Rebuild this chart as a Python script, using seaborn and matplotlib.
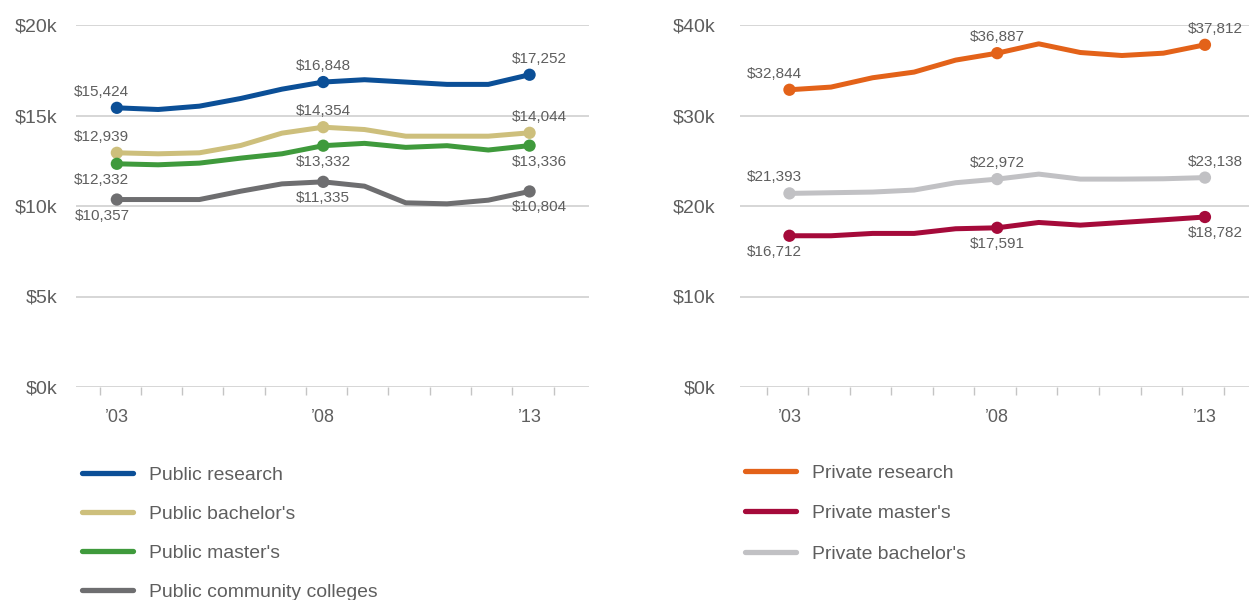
import matplotlib
matplotlib.use("Agg")
import matplotlib.pyplot as plt
import seaborn as sns
import pandas as pd
from matplotlib import font_manager
from matplotlib.lines import Line2D

# ---------------- data ----------------
years = list(range(2003, 2014))
label_years = [2003, 2008, 2013]
year_ticklabels = ["\u201903", "\u201908", "\u201913"]

public_research = [15424, 15332, 15516, 15940, 16455, 16848, 16977, 16848, 16719, 16719, 17252]
public_bachelors = [12939, 12884, 12939, 13344, 14025, 14354, 14225, 13857, 13857, 13857, 14044]
public_masters = [12332, 12277, 12369, 12645, 12884, 13332, 13461, 13240, 13332, 13093, 13336]
public_community = [10357, 10357, 10357, 10817, 11222, 11335, 11096, 10175, 10120, 10322, 10804]

private_research = [32844, 33139, 34170, 34796, 36122, 36887, 37918, 36961, 36629, 36887, 37812]
private_masters = [16712, 16712, 16970, 16970, 17486, 17591, 18180, 17885, 18180, 18475, 18782]
private_bachelors = [21393, 21467, 21540, 21761, 22571, 22972, 23524, 22972, 22972, 23009, 23138]

left_names = ["Public research", "Public bachelor's", "Public master's", "Public community colleges"]
left_values = [public_research, public_bachelors, public_masters, public_community]
left_colors = ["#0b4f97", "#cdbf7c", "#3f9a3c", "#6e6e70"]
left_side = ["above", "above", "below", "below"]
left_yticks = [0, 5000, 10000, 15000, 20000]
left_yticklabels = ["$0k", "$5k", "$10k", "$15k", "$20k"]

right_names = ["Private research", "Private master's", "Private bachelor's"]
right_values = [private_research, private_masters, private_bachelors]
right_colors = ["#e36219", "#a50a3a", "#c1c1c4"]
right_side = ["above", "below", "above"]
right_yticks = [0, 10000, 20000, 30000, 40000]
right_yticklabels = ["$0k", "$10k", "$20k", "$30k", "$40k"]

# ---------------- style ----------------
sns.set_theme(style="white")
names = {f.name for f in font_manager.fontManager.ttflist}
if "Liberation Sans Narrow" in names:
    NARROW, nscale = "Liberation Sans Narrow", 1.0
else:
    NARROW, nscale = "Liberation Sans", 0.82
REG = "Liberation Sans"
plt.rcParams["font.family"] = [REG, "DejaVu Sans"]

TXT = "#5e5e5e"
GRID = "#cbcbcb"

fig = plt.figure(figsize=(12.49, 6.0), dpi=100)
W, H = 1249, 600


def px_axes(x0, x1, ytop, ybot):
    return fig.add_axes([x0 / W, (H - ybot) / H, (x1 - x0) / W, (ybot - ytop) / H])


def draw_panel(ax, names_, values, colors, sides, yticks, yticklabels, xlim, tick_shift, ypad):
    df = pd.DataFrame({
        "year": years * len(names_),
        "value": [v for vals in values for v in vals],
        "series": [n for n in names_ for _ in years],
    })
    pal = dict(zip(names_, colors))
    sns.lineplot(data=df, x="year", y="value", hue="series", hue_order=names_,
                 palette=pal, linewidth=3.6, legend=False, ax=ax,
                 solid_joinstyle="round", zorder=3)
    pts = df[df["year"].isin(label_years)]
    sns.scatterplot(data=pts, x="year", y="value", hue="series", hue_order=names_,
                    palette=pal, s=78, linewidth=0, legend=False, ax=ax, zorder=4)
    dxs = {2003: -15, 2008: 0, 2013: 10}
    for name, side in zip(names_, sides):
        sub = pts[pts["series"] == name]
        for _, r in sub.iterrows():
            dy = 16 if side == "above" else -16
            ax.annotate(f"${int(r['value']):,}", (r["year"], r["value"]),
                        xytext=(dxs[int(r["year"])] * 0.72, dy * 0.72),
                        textcoords="offset points", ha="center", va="center",
                        fontsize=13.4 * nscale, family=[NARROW, "DejaVu Sans"],
                        color=TXT, zorder=5)
    ax.set_xlim(*xlim)
    ax.set_ylim(yticks[0], yticks[-1])
    ax.set_yticks(yticks, labels=yticklabels)
    ax.set_xticks(label_years, labels=year_ticklabels)
    ax.set_xticks([y + tick_shift for y in range(2003, 2015)], minor=True)
    ax.grid(axis="y", color=GRID, linewidth=1.1)
    ax.grid(axis="x", visible=False)
    ax.set_axisbelow(True)
    for s in ax.spines.values():
        s.set_visible(False)
    ax.tick_params(axis="y", length=0, pad=ypad, labelsize=14, labelcolor=TXT)
    ax.tick_params(axis="x", which="major", length=0, pad=16, labelsize=13, labelcolor=TXT)
    ax.tick_params(axis="x", which="minor", length=6, width=1.0, color="#c4c4c4",
                   direction="out", bottom=True)
    ax.set_xlabel("")
    ax.set_ylabel("")


ax1 = px_axes(76, 589, 25, 387)
draw_panel(ax1, left_names, left_values, left_colors, left_side,
           left_yticks, left_yticklabels, (2002.01, 2014.44), -0.42, 13.5)

ax2 = px_axes(740, 1249, 25, 387)
draw_panel(ax2, right_names, right_values, right_colors, right_side,
           right_yticks, right_yticklabels, (2001.81, 2014.06), -0.55, 18)


def add_legend(names_, colors, x_px, ytop_px, spacing):
    fs = 17 * nscale
    fs_px = fs / 72 * 100
    handles = [Line2D([0], [0], color=c, lw=3.8, solid_capstyle="round") for c in colors]
    leg = fig.legend(handles, names_, loc="upper left",
                     bbox_to_anchor=(x_px / W, (H - ytop_px) / H),
                     frameon=False, borderpad=0, borderaxespad=0,
                     handlelength=51 / fs_px, handletextpad=16 / fs_px,
                     labelspacing=spacing,
                     prop={"family": [NARROW, "DejaVu Sans"], "size": fs})
    for t in leg.get_texts():
        t.set_color(TXT)
    return leg


add_legend(left_names, left_colors, 82, 466, 1.12)
add_legend(right_names, right_colors, 745, 464, 1.19)

fig.savefig("out.png", dpi=100)
